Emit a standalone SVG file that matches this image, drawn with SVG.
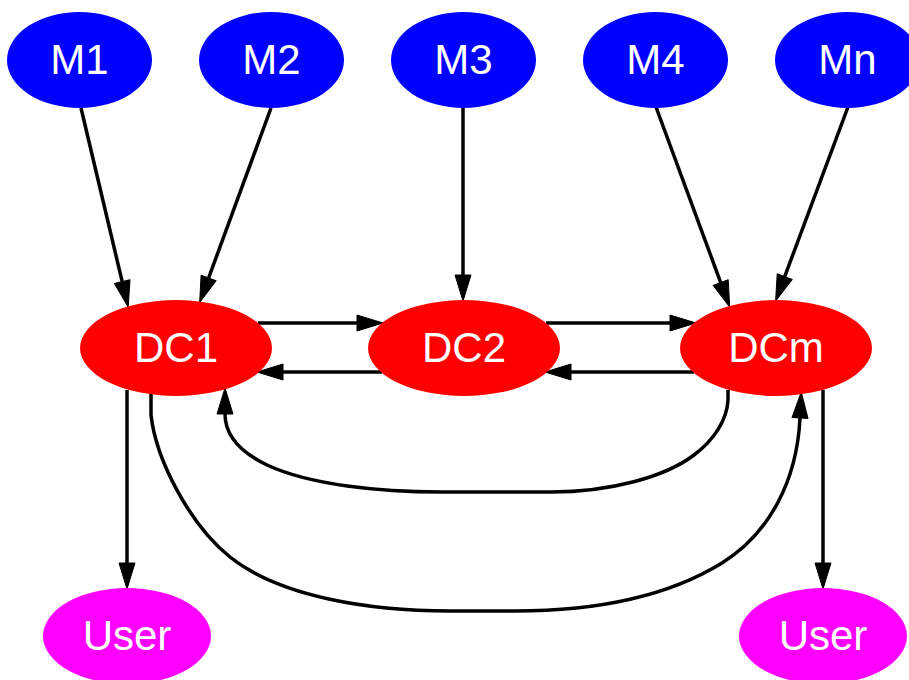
<svg xmlns="http://www.w3.org/2000/svg" width="909" height="680" viewBox="0 0 909 680">
<style>
.m{fill:#0000ff}
.dc{fill:#ff0000}
.u{fill:#ff00ff}
text{font-family:"Liberation Sans",Arial,sans-serif;font-size:42px;fill:#ffffff;text-anchor:middle}
.e{fill:none;stroke:#000;stroke-width:3.5;marker-end:url(#ah)}
</style>
<defs>
<marker id="ah" markerUnits="userSpaceOnUse" markerWidth="28" markerHeight="18" refX="0" refY="8" orient="auto" overflow="visible">
<path d="M0,0 L26,8 L0,16 z" fill="#000" stroke="#000" stroke-width="1" stroke-linejoin="round"/>
</marker>
</defs>
<rect width="909" height="680" fill="#fff"/>
<g id="connectors">
<path class="e" d="M81,108 L122.2,281.7"/>
<path class="e" d="M271,108 L208.6,278"/>
<path class="e" d="M463,108 L463,275"/>
<path class="e" d="M656,107 L720.7,282.6"/>
<path class="e" d="M848,107 L784.7,276.6"/>
<path class="e" d="M258,323 L357,323"/>
<path class="e" d="M382,372 L283,372"/>
<path class="e" d="M546,323 L670,323"/>
<path class="e" d="M694,372 L571,372"/>
<path class="e" d="M127,390 L127,563"/>
<path class="e" d="M823,390 L823,563"/>
<path class="e" d="M728,390 L728,400 C727,420 714,440 694,455 C665,477 610,492 551,492 L441,492 C380,492 310,485 267,465 C240,452 225,435 225,414"/>
<path class="e" d="M151,393 L151,415 C156,460 190,525 230,557 C280,597 370,611 450,611 L515,611 C600,611 670,595 722,563 C770,533 797,480 800,418"/>
</g>
<g id="M1"><ellipse class="m" cx="79.5" cy="60" rx="72.5" ry="48"/><text x="79.5" y="74">M1</text></g>
<g id="M2"><ellipse class="m" cx="271.5" cy="60" rx="72.5" ry="48"/><text x="271.5" y="74">M2</text></g>
<g id="M3"><ellipse class="m" cx="463.5" cy="60" rx="72.5" ry="48"/><text x="463.5" y="74">M3</text></g>
<g id="M4"><ellipse class="m" cx="655.5" cy="60" rx="72.5" ry="48"/><text x="655.5" y="74">M4</text></g>
<g id="Mn"><ellipse class="m" cx="847.5" cy="60" rx="72.5" ry="48"/><text x="847.5" y="74">Mn</text></g>
<g id="DC1"><ellipse class="dc" cx="176" cy="348" rx="96" ry="48"/><text x="176" y="362">DC1</text></g>
<g id="DC2"><ellipse class="dc" cx="464" cy="348" rx="96" ry="48"/><text x="464" y="362">DC2</text></g>
<g id="DCm"><ellipse class="dc" cx="776" cy="348" rx="96" ry="48"/><text x="776" y="362">DCm</text></g>
<g id="User1"><ellipse class="u" cx="127" cy="636" rx="84" ry="48"/><text x="127" y="650">User</text></g>
<g id="User2"><ellipse class="u" cx="823" cy="636" rx="84" ry="48"/><text x="823" y="650">User</text></g>
</svg>
